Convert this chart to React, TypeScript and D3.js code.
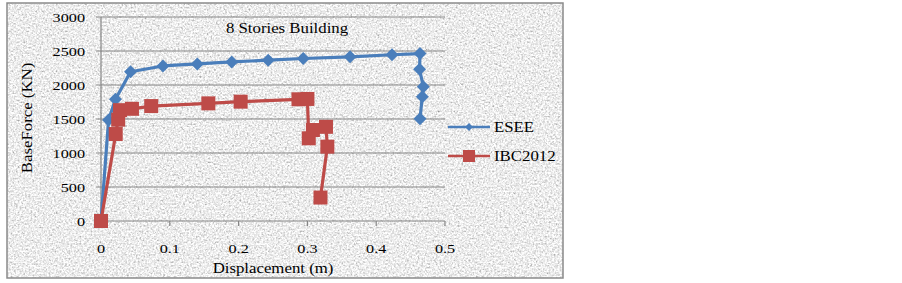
import React from "react";
import * as d3 from "d3";

const yTicks = [0, 500, 1000, 1500, 2000, 2500, 3000];
const xTicks = [0, 0.1, 0.2, 0.3, 0.4, 0.5];
const xTickLabels = ["0", "0.1", "0.2", "0.3", "0.4", "0.5"];

const eseeX = [0, 0.011, 0.021, 0.043, 0.09, 0.14, 0.19, 0.243, 0.294, 0.362, 0.423, 0.4637, 0.463, 0.4685, 0.467, 0.4637];
const eseeY = [0, 1485, 1790, 2195, 2280, 2310, 2340, 2365, 2390, 2415, 2445, 2462, 2231, 1975, 1828, 1505];

const ibcX = [0, 0.0214, 0.025, 0.0276, 0.045, 0.073, 0.156, 0.203, 0.287, 0.3, 0.302, 0.308, 0.327, 0.329, 0.319];
const ibcY = [0, 1279, 1490, 1630, 1650, 1690, 1730, 1755, 1790, 1795, 1216, 1338, 1385, 1093, 345];

const seriesNames = ["ESEE", "IBC2012"];
const title = "8 Stories Building";
const xTitle = "Displacement (m)";
const yTitle = "BaseForce (KN)";

const BLUE = "#4a7ebb";
const RED = "#be4b48";
const SX = 1.2;

function T({ x, y, anchor = "start", size = 14, rotate = 0, children }: any) {
  const font = "'Liberation Serif', 'Times New Roman', serif";
  return (
    <g transform={`translate(${x},${y}) rotate(${rotate}) scale(${SX},1)`}>
      <text x={0} y={0} dy="0.35em" textAnchor={anchor} fontFamily={font} fontSize={size} fill="#000">
        {children}
      </text>
    </g>
  );
}

export default function App() {
  const x = d3.scaleLinear().domain([0, 0.5]).range([101, 445]);
  const y = d3.scaleLinear().domain([0, 3000]).range([221, 17]);
  const line = d3.line<[number, number]>().x((d) => x(d[0])).y((d) => y(d[1]));
  const esee: [number, number][] = eseeX.map((v, i) => [v, eseeY[i]]);
  const ibc: [number, number][] = ibcX.map((v, i) => [v, ibcY[i]]);
  const diamond = (cx: number, cy: number, r: number) =>
    `M${cx},${cy - r}L${cx + r},${cy}L${cx},${cy + r}L${cx - r},${cy}Z`;

  return (
    <svg width={902} height={283} style={{ position: "absolute", left: 0, top: 0, display: "block" }}>
      <defs>
        <filter id="noise" x="0" y="0" width="100%" height="100%">
          <feTurbulence type="fractalNoise" baseFrequency="0.55" numOctaves="3" seed="4" result="t" />
          <feColorMatrix
            type="matrix"
            values="0.33 0.33 0.33 0 0  0.33 0.33 0.33 0 0  0.33 0.33 0.33 0 0  0 0 0 0 1"
          />
          <feComponentTransfer>
            <feFuncR type="linear" slope="1.7" intercept="0.0" />
            <feFuncG type="linear" slope="1.7" intercept="0.0" />
            <feFuncB type="linear" slope="1.7" intercept="0.0" />
          </feComponentTransfer>
        </filter>
      </defs>
      <rect x={0} y={0} width={902} height={283} fill="#ffffff" />
      <rect x={7} y={3} width={556} height={275} fill="#d9d9d9" />
      <rect x={7} y={3} width={556} height={275} filter="url(#noise)" opacity={1} />
      <rect x={7} y={3} width={556} height={275} fill="none" stroke="#8a8a8a" strokeWidth={1.5} />

      {yTicks.map((t) => (
        <g key={"y" + t}>
          <line x1={96} x2={445} y1={y(t)} y2={y(t)} stroke="#858585" strokeWidth={1.2} />
          <T x={85} y={y(t)} anchor="end" size={13.5}>
            {t}
          </T>
        </g>
      ))}
      <line x1={x(0)} x2={x(0)} y1={y(3000)} y2={y(0)} stroke="#858585" strokeWidth={1.2} />
      {xTicks.map((t, i) => (
        <g key={"x" + t}>
          <line x1={x(t)} x2={x(t)} y1={y(0)} y2={y(0) + 5} stroke="#858585" strokeWidth={1.2} />
          <T x={x(t)} y={248} anchor="middle" size={13.5}>
            {xTickLabels[i]}
          </T>
        </g>
      ))}

      <T x={287} y={28} anchor="middle">
        {title}
      </T>
      <T x={273} y={268} anchor="middle">
        {xTitle}
      </T>
      <T x={27} y={118} anchor="middle" rotate={-90}>
        {yTitle}
      </T>

      <path d={line(esee) || ""} fill="none" stroke={BLUE} strokeWidth={3.2} strokeLinejoin="round" />
      {esee.map((d, i) => (
        <path key={"e" + i} d={diamond(x(d[0]), y(d[1]), 6.5)} fill={BLUE} />
      ))}
      <path d={line(ibc) || ""} fill="none" stroke={RED} strokeWidth={3.2} strokeLinejoin="round" />
      {ibc.map((d, i) => (
        <rect key={"r" + i} x={x(d[0]) - 7} y={y(d[1]) - 7} width={14} height={14} fill={RED} />
      ))}

      <line x1={448} x2={490} y1={127} y2={127} stroke={BLUE} strokeWidth={2.5} />
      <path d={diamond(469, 127, 4)} fill={BLUE} />
      <T x={494} y={127}>
        {seriesNames[0]}
      </T>
      <line x1={448} x2={490} y1={156} y2={156} stroke={RED} strokeWidth={2.5} />
      <rect x={463} y={150} width={12} height={12} fill={RED} />
      <T x={494} y={156}>
        {seriesNames[1]}
      </T>
    </svg>
  );
}
